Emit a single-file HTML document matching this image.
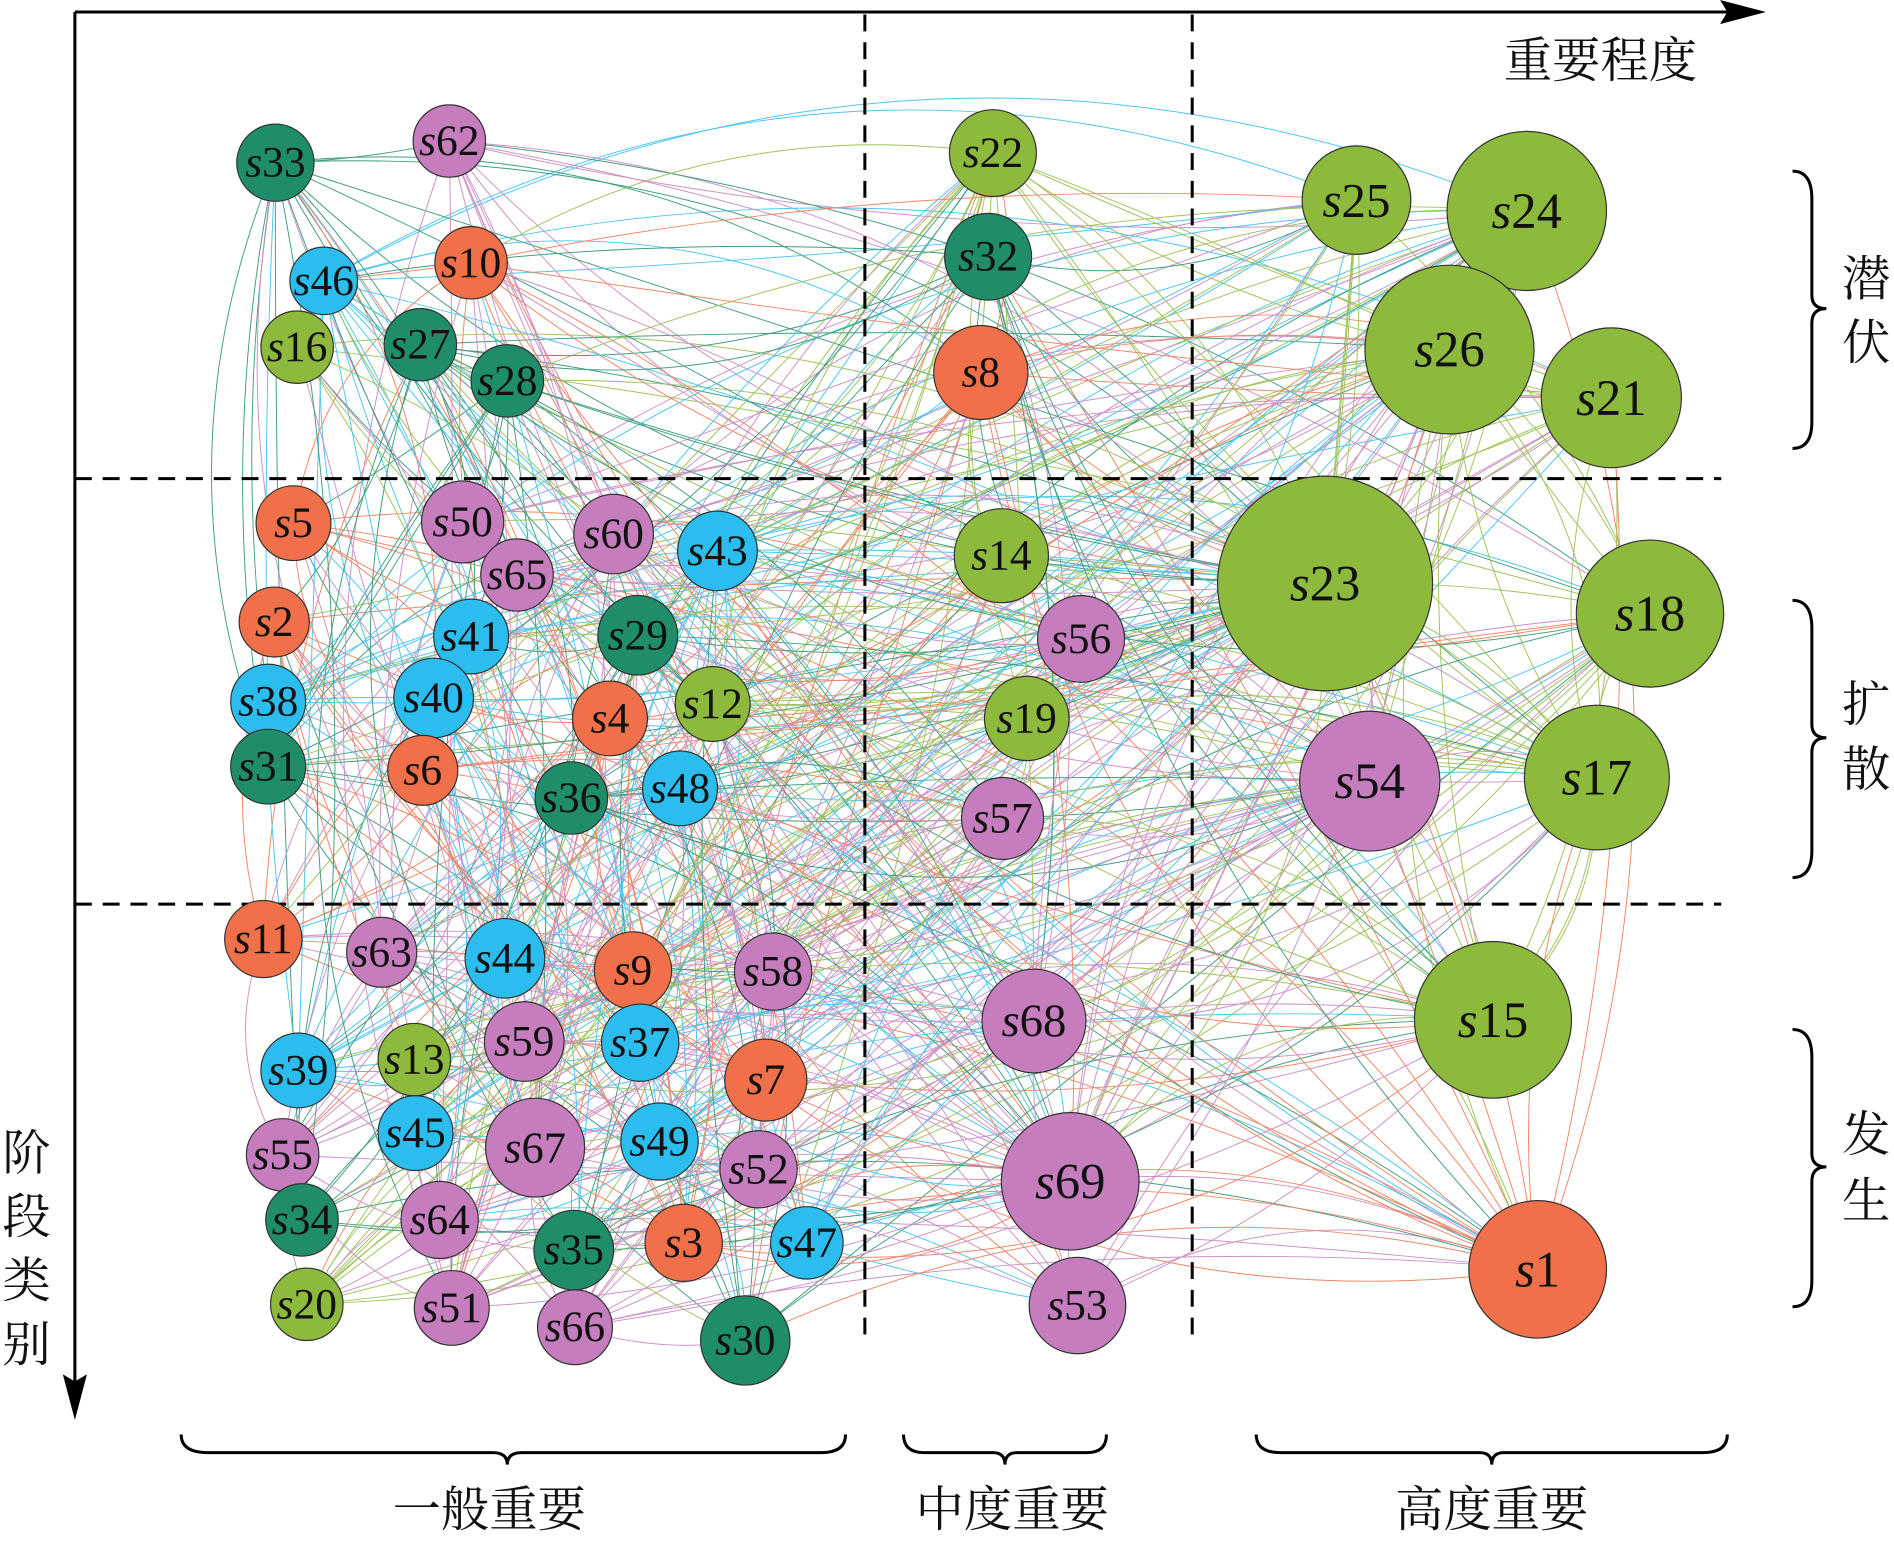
<!DOCTYPE html>
<html><head><meta charset="utf-8"><style>
html,body{margin:0;padding:0;background:#fff}
svg{display:block}
.n{font-family:"Times New Roman","Liberation Serif",serif;font-style:italic;text-anchor:middle;dominant-baseline:central;fill:#111}
.c{font-family:"Liberation Serif","Noto Serif CJK SC","Noto Sans CJK SC",serif;fill:#111}
</style></head><body>
<svg id="s" width="1894" height="1543" viewBox="0 0 1568 1280" preserveAspectRatio="none" xmlns="http://www.w3.org/2000/svg">
<rect width="1568" height="1280" fill="#fff"/>
<g id="edges" fill="none" stroke-width="0.8" opacity="0.85"></g>
<g stroke="#000" stroke-width="2.5" stroke-dasharray="14,9" fill="none">
<line x1="716" y1="12" x2="716" y2="1108"/>
<line x1="987" y1="12" x2="987" y2="1108"/>
<line x1="62" y1="397" x2="1425" y2="397"/>
<line x1="62" y1="750" x2="1425" y2="750"/>
</g>
<g stroke="#000" stroke-width="2.5" fill="none">
<line x1="62" y1="10" x2="1440" y2="10"/>
<line x1="62" y1="10" x2="62" y2="1160"/>
<path d="M1484,142 Q1500,142 1500,165 L1500,245 Q1500,256 1512,256 Q1500,256 1500,268 L1500,350 Q1500,372 1484,372"/>
<path d="M1484,498 Q1500,498 1500,521 L1500,601 Q1500,612 1512,612 Q1500,612 1500,624 L1500,706 Q1500,728 1484,728"/>
<path d="M1484,854 Q1500,854 1500,877 L1500,957 Q1500,968 1512,968 Q1500,968 1500,980 L1500,1062 Q1500,1084 1484,1084"/>
<path d="M150,1190 Q150,1205 172,1205 L408,1205 Q420,1205 420,1215 Q420,1205 432,1205 L680,1205 Q700,1205 700,1190"/>
<path d="M748,1190 Q748,1205 765,1205 L822,1205 Q832,1205 832,1215 Q832,1205 842,1205 L900,1205 Q916,1205 916,1190"/>
<path d="M1040,1190 Q1040,1205 1060,1205 L1225,1205 Q1235,1205 1235,1215 Q1235,1205 1245,1205 L1410,1205 Q1430,1205 1430,1190"/>
</g>
<polygon points="1462,10 1424,0 1430,10 1424,20" fill="#000"/>
<polygon points="62,1178 52,1140 62,1146 72,1140" fill="#000"/>
<text class="c" x="1325" y="64" font-size="40" text-anchor="middle">重要程度</text>
<text class="c" x="1545" y="245" font-size="40" text-anchor="middle">潜</text>
<text class="c" x="1545" y="298" font-size="40" text-anchor="middle">伏</text>
<text class="c" x="1545" y="598" font-size="40" text-anchor="middle">扩</text>
<text class="c" x="1545" y="652" font-size="40" text-anchor="middle">散</text>
<text class="c" x="1545" y="955" font-size="40" text-anchor="middle">发</text>
<text class="c" x="1545" y="1010" font-size="40" text-anchor="middle">生</text>
<text class="c" x="22" y="970" font-size="40" text-anchor="middle">阶</text>
<text class="c" x="22" y="1023" font-size="40" text-anchor="middle">段</text>
<text class="c" x="22" y="1076" font-size="40" text-anchor="middle">类</text>
<text class="c" x="22" y="1129" font-size="40" text-anchor="middle">别</text>
<text class="c" x="405" y="1266" font-size="40" text-anchor="middle">一般重要</text>
<text class="c" x="838" y="1266" font-size="40" text-anchor="middle">中度重要</text>
<text class="c" x="1235" y="1266" font-size="40" text-anchor="middle">高度重要</text>
<g id="nodes"></g>
</svg>
<script>
var C={o:"#EF7049",g:"#8DB93D",d:"#1F8D69",b:"#2BBDEE",p:"#C57DBD"};
var N=[["33",228,135,32,"d"],["62",372,117,30,"p"],["46",268,233,28,"b"],["10",390,218,30,"o"],["16",246,288,30,"g"],["27",348,286,30,"d"],["28",420,316,30,"d"],["22",822,127,36,"g"],["32",818,213,36,"d"],["8",812,309,39,"o"],["25",1123,166,45,"g"],["24",1264,175,66,"g"],["26",1200,290,70,"g"],["21",1334,330,58,"g"],["5",243,434,31,"o"],["50",383,433,34,"p"],["60",508,443,33,"p"],["65",428,477,30,"p"],["43",594,457,33,"b"],["14",829,461,39,"g"],["23",1097,484,89,"g"],["18",1366,509,61,"g"],["2",227,516,29,"o"],["41",390,528,31,"b"],["29",528,527,33,"d"],["56",895,530,36,"p"],["38",222,582,31,"b"],["40",359,579,33,"b"],["4",505,596,31,"o"],["12",590,584,31,"g"],["19",850,596,35,"g"],["54",1134,648,58,"p"],["17",1322,645,60,"g"],["31",222,636,31,"d"],["6",350,639,29,"o"],["36",473,662,30,"d"],["48",563,654,31,"b"],["57",830,679,34,"p"],["11",218,779,32,"o"],["63",316,790,29,"p"],["44",418,795,33,"b"],["9",524,805,32,"o"],["58",640,806,32,"p"],["68",856,847,43,"p"],["15",1236,846,65,"g"],["39",247,888,31,"b"],["13",343,879,30,"g"],["59",434,864,33,"p"],["37",530,865,32,"b"],["7",634,896,34,"o"],["55",234,958,30,"p"],["45",344,940,31,"b"],["67",443,952,41,"p"],["49",546,947,32,"b"],["52",628,970,32,"p"],["69",886,980,57,"p"],["34",250,1012,30,"d"],["64",364,1012,32,"p"],["35",475,1037,33,"d"],["3",566,1031,32,"o"],["47",668,1031,30,"b"],["1",1273,1053,57,"o"],["20",254,1082,30,"g"],["51",374,1085,31,"p"],["66",476,1101,31,"p"],["30",617,1112,37,"d"],["53",892,1083,40,"p"]];
var seed=12345;function R(){seed=(seed*1103515245+12345)%2147483648;return seed/2147483648;}
var E=document.getElementById("edges"),G=document.getElementById("nodes");
var tot=0;N.forEach(function(n){tot+=Math.pow(n[3],3);});
function pick(){var r=R()*tot;for(var i=0;i<N.length;i++){r-=Math.pow(N[i][3],3);if(r<=0)return i;}return 0;}
var h="";
for(var k=0;k<700;k++){var a=N[Math.floor(R()*N.length)],j=R()<0.65?pick():Math.floor(R()*N.length),b=N[j];if(a===b)continue;
var mx=(a[1]+b[1])/2,my=(a[2]+b[2])/2,dx=b[1]-a[1],dy=b[2]-a[2],L=Math.sqrt(dx*dx+dy*dy),o=(R()-0.5)*0.5*L;
h+='<path stroke="'+C[a[4]]+'" d="M'+a[1]+','+a[2]+' Q'+(mx-dy/L*o).toFixed(1)+','+(my+dx/L*o).toFixed(1)+' '+b[1]+','+b[2]+'"/>';}
E.innerHTML=h;
var g="";N.forEach(function(n){var fs=Math.min(42,Math.max(36,n[3]*0.9));
g+='<circle cx="'+n[1]+'" cy="'+n[2]+'" r="'+n[3]+'" fill="'+C[n[4]]+'" stroke="#333" stroke-width="1"/>';
g+='<text class="n" x="'+n[1]+'" y="'+n[2]+'" font-size="'+fs+'">s<tspan font-style="normal">'+n[0]+'</tspan></text>';});
G.innerHTML=g;
</script>
</body></html>
